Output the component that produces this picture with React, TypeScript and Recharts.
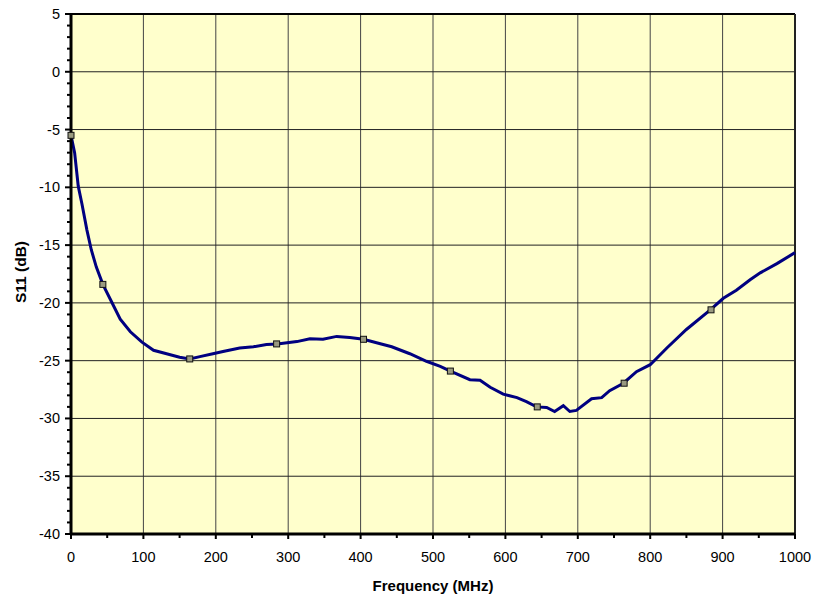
import {
  ComposedChart,
  Line,
  Scatter,
  XAxis,
  YAxis,
  ReferenceArea,
  ReferenceLine,
} from "recharts";

// measured trace, S11 vs frequency
const freq = [
  0, 5, 10, 15, 22, 28, 35, 44, 56, 68, 82, 98, 114, 132, 150, 164, 178, 196,
  210, 233, 252, 270, 285, 312, 330, 348, 367, 385, 404, 422, 443, 468, 491,
  510, 524, 551, 565, 579, 597, 616, 629, 643, 657, 668, 680, 689, 698, 719,
  733, 744, 763, 781, 800, 823, 850, 883, 901, 919, 938, 952, 975, 1000,
];
const s11 = [
  -5.5, -7.0, -9.9, -11.4, -13.7, -15.4, -16.9, -18.4, -19.9, -21.4, -22.5,
  -23.4, -24.1, -24.4, -24.7, -24.85, -24.65, -24.4, -24.2, -23.9, -23.8,
  -23.6, -23.55, -23.35, -23.1, -23.15, -22.9, -23.0, -23.15, -23.45, -23.8,
  -24.4, -25.05, -25.5, -25.9, -26.65, -26.7, -27.3, -27.9, -28.2, -28.55,
  -29.0, -29.05, -29.4, -28.9, -29.4, -29.3, -28.3, -28.2, -27.6, -26.95,
  -25.95, -25.35, -23.9, -22.3, -20.6, -19.6, -18.9, -18.0, -17.4, -16.6,
  -15.65,
];

// square markers
const markerFreq = [0, 44, 164, 284, 404, 524, 644, 764, 884];
const markerS11 = [-5.5, -18.4, -24.85, -23.55, -23.15, -25.9, -29.0, -26.95, -20.6];

// axis ticks (major + minor)
const xTicks = [
  0, 50, 100, 150, 200, 250, 300, 350, 400, 450, 500, 550, 600, 650, 700, 750,
  800, 850, 900, 950, 1000,
];
const yTicks = [
  -40, -39, -38, -37, -36, -35, -34, -33, -32, -31, -30, -29, -28, -27, -26,
  -25, -24, -23, -22, -21, -20, -19, -18, -17, -16, -15, -14, -13, -12, -11,
  -10, -9, -8, -7, -6, -5, -4, -3, -2, -1, 0, 1, 2, 3, 4, 5,
];
const gridX = [100, 200, 300, 400, 500, 600, 700, 800, 900];
const gridY = [-35, -30, -25, -20, -15, -10, -5, 0];

const lineData = freq.map((f, i) => ({ f, v: s11[i] }));
const markerData = markerFreq.map((f, i) => ({ f, v: markerS11[i] }));

const FONT = "'Liberation Sans', Arial, sans-serif";

const XTick = (props: any) => {
  const { x, y, payload } = props;
  const major = payload.value % 100 === 0;
  return (
    <g>
      <line x1={x} x2={x} y1={y} y2={y + (major ? 5 : 4)} stroke="#000" strokeWidth={2} />
      {major && (
        <text x={x} y={y + 23} textAnchor="middle" dominantBaseline="central" fontSize={14.5} fill="#000" fontFamily={FONT}>
          {payload.value}
        </text>
      )}
    </g>
  );
};

const YTick = (props: any) => {
  const { x, y, payload } = props;
  const major = payload.value % 5 === 0;
  return (
    <g>
      <line x1={x - (major ? 6 : 4)} x2={x} y1={y} y2={y} stroke="#000" strokeWidth={2} />
      {major && (
        <text x={x - 11} y={y} textAnchor="end" dominantBaseline="central" fontSize={14.5} fill="#000" fontFamily={FONT}>
          {payload.value}
        </text>
      )}
    </g>
  );
};

export default function App() {
  return (
    <div style={{ position: "absolute", left: 0, top: 0, width: 814, height: 599, background: "#fff" }}>
      <ComposedChart
        width={814}
        height={599}
        data={lineData}
        margin={{ top: 14, right: 19, bottom: 0, left: 0 }}
      >
        <XAxis
          type="number"
          dataKey="f"
          domain={[0, 1000]}
          ticks={xTicks}
          interval={0}
          height={65}
          tickLine={false}
          tickSize={0}
          tickMargin={0}
          tick={<XTick />}
          axisLine={{ stroke: "#000", strokeWidth: 3 }}
          label={(p: any) => {
            const vb = p.viewBox;
            return (
              <text x={vb.x + vb.width / 2} y={585} textAnchor="middle" dominantBaseline="central" fontSize={15} fontWeight="bold" fontFamily={FONT} fill="#000">
                Frequency (MHz)
              </text>
            );
          }}
        />
        <YAxis
          type="number"
          domain={[-40, 5]}
          ticks={yTicks}
          interval={0}
          width={71}
          tickLine={false}
          tickSize={0}
          tickMargin={0}
          tick={<YTick />}
          axisLine={{ stroke: "#000", strokeWidth: 3 }}
          label={(p: any) => {
            const vb = p.viewBox;
            const cy = vb.y + vb.height / 2 - 2;
            return (
              <text x={20} y={cy} transform={`rotate(-90 20 ${cy})`} textAnchor="middle" dominantBaseline="central" fontSize={15.5} fontWeight="bold" fontFamily={FONT} fill="#000">
                S11 (dB)
              </text>
            );
          }}
        />
        <ReferenceArea x1={0} x2={1000} y1={-40} y2={5} fill="#FFFFCC" fillOpacity={1} stroke="none" />
        {gridX.map((g) => (
          <ReferenceLine key={`gx-${g}`} x={g} stroke="#444" strokeWidth={1} />
        ))}
        {gridY.map((g) => (
          <ReferenceLine key={`gy-${g}`} y={g} stroke="#222" strokeWidth={1} />
        ))}
        <ReferenceLine y={5} stroke="#000" strokeWidth={2} />
        <ReferenceLine x={1000} stroke="#222" strokeWidth={2} />
        <Line
          type="linear"
          dataKey="v"
          stroke="#000080"
          strokeWidth={3}
          dot={false}
          activeDot={false}
          isAnimationActive={false}
        />
        <Scatter
          data={markerData}
          dataKey="v"
          isAnimationActive={false}
          shape={(p: any) => (
            <rect x={p.cx - 3} y={p.cy - 3} width={6} height={6} fill="#9a9a80" stroke="#111" strokeWidth={1} />
          )}
        />
      </ComposedChart>
    </div>
  );
}
